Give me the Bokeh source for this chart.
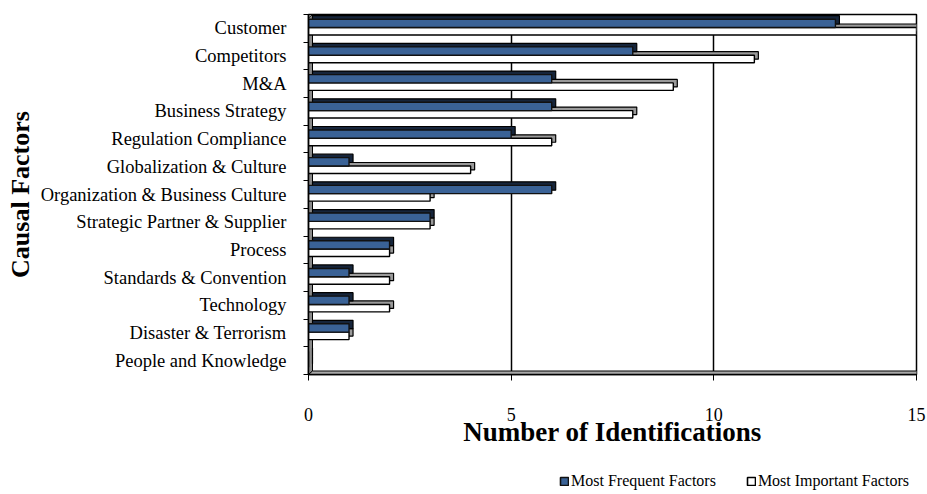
from bokeh.plotting import figure
from bokeh.models import FixedTicker, Legend, LegendItem, ColumnDataSource
from bokeh.layouts import column
from bokeh.embed import file_html
from bokeh.resources import INLINE

categories = ["Customer", "Competitors", "M&A", "Business Strategy", "Regulation Compliance",
              "Globalization & Culture", "Organization & Business Culture",
              "Strategic Partner & Supplier", "Process", "Standards & Convention",
              "Technology", "Disaster & Terrorism", "People and Knowledge"]
most_frequent = [13, 8, 6, 6, 5, 1, 6, 3, 2, 1, 1, 1, 0]
most_important = [15, 11, 9, 8, 6, 4, 3, 3, 2, 2, 2, 1, 0]
x_ticks = [0, 5, 10, 15]
series_names = ["Most Frequent Factors", "Most Important Factors"]

BLUE = "#3a6296"
BLUE_TOP = "#16253b"
n = len(categories)
XMAX = 15
FRAME_W, FRAME_H = 608, 360
dx = 4 * XMAX / FRAME_W
dy = 3.5 * n / FRAME_H

band_top = [n - k for k in range(n)]
centers = [n - k - 0.5 for k in range(n)]

FONT = "Liberation Serif"

p = figure(width=927, height=460, x_range=(0, XMAX), y_range=(0, n),
           output_backend="svg", toolbar_location=None,
           min_border_left=308, min_border_right=11, min_border_top=14, min_border_bottom=86,
           background_fill_color="white", border_fill_color="white")
p.outline_line_color = "black"
p.outline_line_width = 1.5
p.ygrid.grid_line_color = None
p.xgrid.grid_line_color = "black"
p.xgrid.grid_line_width = 1.5
p.xgrid.ticker = FixedTicker(ticks=x_ticks)

# left wall and floor (3D look)
p.patch(x=[0, dx, dx, 0], y=[0, dy, n, n - dy], fill_color="#8a8a8a", line_color="black", line_width=1)
p.patch(x=[0, XMAX, XMAX + dx, dx], y=[0, 0, dy, dy], fill_color="#a8a8a8", line_color="black", line_width=1)

# bars
b_top = [t - 0.17 for t in band_top]
b_bot = [t - 0.47 for t in band_top]
w_top = b_bot
w_bot = [t - 0.74 for t in band_top]

src_b = ColumnDataSource(dict(left=[0] * n, right=most_frequent, top=b_top, bottom=b_bot))
src_w = ColumnDataSource(dict(left=[0] * n, right=most_important, top=w_top, bottom=w_bot))
src_bd = ColumnDataSource(dict(left=[dx] * n, right=[v + dx for v in most_frequent],
                               top=[t + dy for t in b_top], bottom=[b + dy for b in b_bot]))
src_wd = ColumnDataSource(dict(left=[dx] * n, right=[v + dx for v in most_important],
                               top=[t + dy for t in w_top], bottom=[b + dy for b in w_bot]))

p.quad(source=src_wd, fill_color="#9a9a9a", line_color="black", line_width=1.2)
p.quad(source=src_w, fill_color="white", line_color="black", line_width=1.4)
p.quad(source=src_bd, fill_color=BLUE_TOP, line_color="black", line_width=1.2)
p.quad(source=src_b, fill_color=BLUE, line_color="#111111", line_width=1.4)

# axes
yax = p.yaxis[0]
yax.ticker = FixedTicker(ticks=centers, minor_ticks=list(range(n + 1)))
yax.major_label_overrides = {c: name for c, name in zip(centers, categories)}
yax.major_tick_line_color = None
yax.minor_tick_line_color = "black"
yax.minor_tick_out = 5
yax.minor_tick_in = 0
yax.axis_line_color = "black"
yax.axis_line_width = 1.5
yax.major_label_text_font = FONT
yax.major_label_text_font_size = "18.5px"
yax.major_label_text_color = "black"
yax.major_label_standoff = 16
yax.axis_label = "Causal Factors"
yax.axis_label_text_font = FONT
yax.axis_label_text_font_style = "bold"
yax.axis_label_text_font_size = "26px"
yax.axis_label_text_color = "black"
yax.axis_label_standoff = 3

xax = p.xaxis[0]
xax.ticker = FixedTicker(ticks=x_ticks)
xax.major_tick_out = 6
xax.major_tick_in = 0
xax.major_tick_line_color = "black"
xax.minor_tick_line_color = None
xax.axis_line_color = "black"
xax.axis_line_width = 1.5
xax.major_label_text_font = FONT
xax.major_label_text_font_size = "18px"
xax.major_label_text_color = "black"
xax.major_label_standoff = 27
xax.axis_label = "Number of Identifications"
xax.axis_label_text_font = FONT
xax.axis_label_text_font_style = "bold"
xax.axis_label_text_font_size = "27px"
xax.axis_label_text_color = "black"
xax.axis_label_standoff = -7

# legend strip below the chart (same bar data, drawn out of view; only the legend shows)
p2 = figure(width=927, height=34, x_range=(0, XMAX), y_range=(-2 * n, -n),
            output_backend="svg", toolbar_location=None, min_border=0,
            background_fill_color="white", border_fill_color="white")
p2.outline_line_color = None
p2.axis.visible = False
p2.grid.visible = False
lb = p2.quad(source=src_b, fill_color=BLUE, line_color="#111111", line_width=1.6)
lw = p2.quad(source=src_w, fill_color="white", line_color="black", line_width=1.6)
legend = Legend(items=[LegendItem(label=series_names[0], renderers=[lb]),
                       LegendItem(label=series_names[1], renderers=[lw])],
                location=(251, 4), orientation="horizontal",
                padding=0, margin=0, spacing=30, label_standoff=2,
                glyph_width=10, glyph_height=10, label_height=16,
                label_text_font=FONT, label_text_font_size="16px",
                label_text_color="black",
                border_line_color=None, background_fill_alpha=0)
p2.add_layout(legend)

open("out.html", "w").write(file_html(column(p, p2, spacing=0), INLINE))
